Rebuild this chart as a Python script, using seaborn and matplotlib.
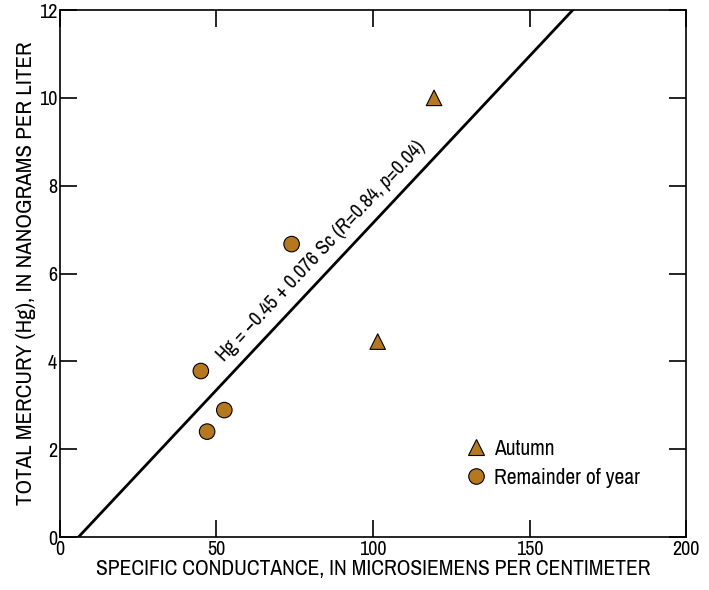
import matplotlib
matplotlib.use("Agg")
import matplotlib.pyplot as plt
from matplotlib import font_manager as fm
import seaborn as sns
import numpy as np
import pandas as pd

sns.set_theme(style="ticks")
names = sorted({f.name for f in fm.fontManager.ttflist})
cond = [n for n in names if ("Narrow" in n or "Condensed" in n)]
main_font = cond[0] if cond else "Roboto"
plt.rcParams['font.family'] = [main_font, 'DejaVu Sans']
plt.rcParams['text.color'] = 'black'
plt.rcParams['axes.labelcolor'] = 'black'
plt.rcParams['mathtext.fontset'] = 'custom'
plt.rcParams['mathtext.rm'] = main_font
plt.rcParams['mathtext.it'] = main_font + ':italic'

# Data
season = ["Autumn", "Autumn", "Remainder of year", "Remainder of year",
          "Remainder of year", "Remainder of year"]
conductance = [119.5, 101.5, 45.0, 47.0, 52.5, 74.0]
mercury = [10.0, 4.45, 3.78, 2.40, 2.89, 6.67]
intercept = -0.45
slope = 0.076
x_ticks = [0, 50, 100, 150, 200]
y_ticks = [0, 2, 4, 6, 8, 10, 12]

df = pd.DataFrame({"Sc": conductance, "Hg": mercury, "Season": season})

fig = plt.figure(figsize=(7.09, 5.9), dpi=100)
ax = fig.add_axes([0.0846, 0.0898, 0.883, 0.8932])

fill = "#B5781F"
sns.scatterplot(data=df, x="Sc", y="Hg", style="Season",
                markers={"Autumn": "^", "Remainder of year": "o"},
                color=fill, edgecolor="black", linewidth=0.8, s=125,
                ax=ax, zorder=3)

xs = np.array([0, 200])
sns.lineplot(x=xs, y=intercept + slope * xs, color="black", linewidth=2,
             ax=ax, zorder=2)

ax.set_xlim(0, 200)
ax.set_ylim(0, 12)
ax.set_xticks(x_ticks)
ax.set_yticks(y_ticks)
ax.tick_params(direction="in", length=12, width=1.2, top=True, right=True,
               labelsize=14.5, colors="black", pad=2)
for sp in ax.spines.values():
    sp.set_linewidth(1.2)
    sp.set_color("black")

ax.set_xlabel("SPECIFIC CONDUCTANCE, IN MICROSIEMENS PER CENTIMETER",
              fontsize=15.5, labelpad=0)
ax.set_ylabel("TOTAL MERCURY (Hg), IN NANOGRAMS PER LITER",
              fontsize=16.5, labelpad=2)

ax.text(83.5, 6.5, r"Hg = $-$0.45 + 0.076 Sc ($R$=0.84, $p$=0.04)",
        rotation=46.8, rotation_mode="anchor", ha="center", va="center",
        fontsize=14.5)

leg = ax.legend(title=None, loc="center left", bbox_to_anchor=(0.647, 0.14),
                frameon=False, fontsize=15.5, handletextpad=0.35,
                handlelength=1.0, borderpad=0, borderaxespad=0,
                labelspacing=0.4, markerscale=1.0)

fig.savefig("out.png", dpi=100)
